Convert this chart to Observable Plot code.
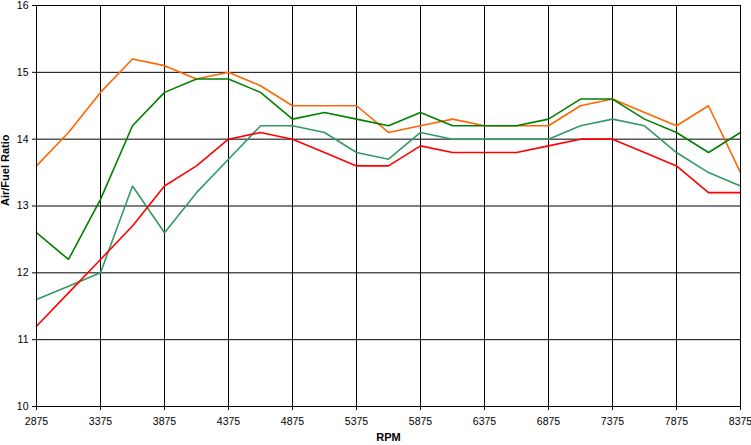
<!DOCTYPE html>
<html><head><meta charset="utf-8">
<script src="https://cdn.jsdelivr.net/npm/d3@7"></script>
<script src="https://cdn.jsdelivr.net/npm/@observablehq/plot@0.6"></script>
<style>body{margin:0;background:#fff}</style>
</head><body><div id="chart"></div>
<script>
const rpm = [2875,3125,3375,3625,3875,4125,4375,4625,4875,5125,5375,5625,5875,6125,6375,6625,6875,7125,7375,7625,7875,8125,8375];
const runA = [13.6,14.1,14.7,15.2,15.1,14.9,15.0,14.8,14.5,14.5,14.5,14.1,14.2,14.3,14.2,14.2,14.2,14.5,14.6,14.4,14.2,14.5,13.5];
const runB = [12.6,12.2,13.1,14.2,14.7,14.9,14.9,14.7,14.3,14.4,14.3,14.2,14.4,14.2,14.2,14.2,14.3,14.6,14.6,14.3,14.1,13.8,14.1];
const runC = [11.6,11.8,12.0,13.3,12.6,13.2,13.7,14.2,14.2,14.1,13.8,13.7,14.1,14.0,14.0,14.0,14.0,14.2,14.3,14.2,13.8,13.5,13.3];
const runD = [11.2,11.7,12.2,12.7,13.3,13.6,14.0,14.1,14.0,13.8,13.6,13.6,13.9,13.8,13.8,13.8,13.9,14.0,14.0,13.8,13.6,13.2,13.2];
const xTicks = [2875,3375,3875,4375,4875,5375,5875,6375,6875,7375,7875,8375];
const yTicks = [10,11,12,13,14,15,16];

const seriesList = [
  {name:"Run A", values:runA, color:"#FF6600"},
  {name:"Run B", values:runB, color:"#008000"},
  {name:"Run C", values:runC, color:"#339966"},
  {name:"Run D", values:runD, color:"#FF0000"}
];
const rows = seriesList.flatMap(s => rpm.map((r,i)=>({rpm:r, afr:s.values[i], s:s.name})));

const chart = Plot.plot({
  width: 751, height: 445,
  marginLeft: 36, marginRight: 11, marginTop: 5, marginBottom: 39,
  style: {fontFamily: "Liberation Sans, Arial, sans-serif", fontSize: "10.5px", color: "#000", background: "#fff"},
  x: {domain: [2875, 8375]},
  y: {domain: [10, 16]},
  color: {domain: seriesList.map(s=>s.name), range: seriesList.map(s=>s.color)},
  marks: [
    Plot.ruleY(yTicks, {stroke: "#000", strokeWidth: 1}),
    Plot.ruleX(xTicks, {stroke: "#000", strokeWidth: 1}),
    Plot.line(rows, {x: "rpm", y: "afr", z: "s", stroke: "s", strokeWidth: 1.6, strokeLinejoin: "miter"}),
    Plot.frame({stroke: "#000", strokeWidth: 1}),
    Plot.axisX({ticks: xTicks, tickFormat: d => String(d), tickSize: 4, tickPadding: 7, label: null, stroke: "#000"}),
    Plot.axisY({ticks: yTicks, tickFormat: d => String(d), tickSize: 4, tickPadding: 4, label: null, stroke: "#000"}),
    Plot.text(["RPM"], {frameAnchor: "bottom", dy: 34, fontWeight: "bold", fontSize: 11, fill: "#000"}),
    Plot.text(["Air/Fuel Ratio"], {frameAnchor: "left", dx: -31, rotate: -90, fontWeight: "bold", fontSize: 11, fill: "#000"})
  ]
});
document.getElementById("chart").appendChild(chart);
</script>
</body></html>
